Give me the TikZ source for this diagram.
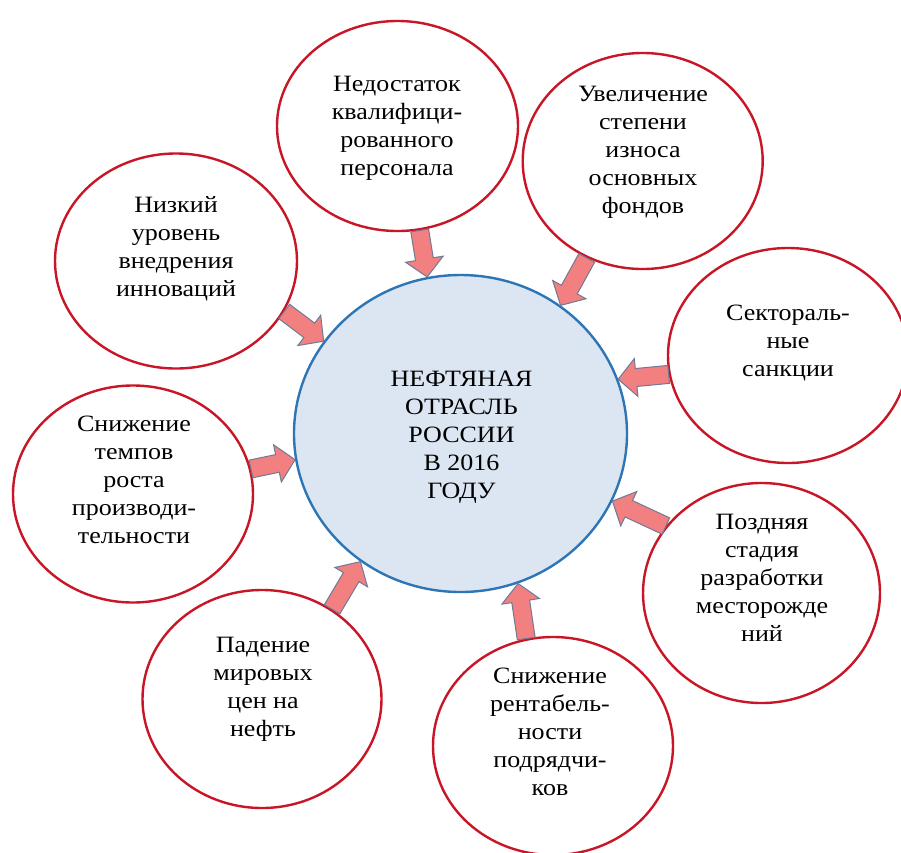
\documentclass[tikz,border=0pt]{standalone}
\usepackage{fontspec}
\setmainfont{Liberation Serif}
\usepackage{graphicx}
\usetikzlibrary{shapes.geometric,calc}
\definecolor{ered}{RGB}{200,22,38}
\definecolor{cblue}{RGB}{46,117,182}
\definecolor{cfill}{RGB}{220,230,242}
\definecolor{afill}{RGB}{242,128,128}
\definecolor{aline}{RGB}{110,122,150}
\newcommand\sqz[1]{\scalebox{1}[0.9]{\begin{tabular}{@{}c@{}}#1\end{tabular}}}
\begin{document}
\begin{tikzpicture}[x=1pt,y=-1pt,
  cause/.style={ellipse, draw=ered, line width=2.4pt, fill=white, inner sep=0pt},
  core/.style={ellipse, draw=cblue, line width=2.4pt, fill=cfill, inner sep=0pt,
    minimum width=333pt, minimum height=317pt},
  txt/.style={inner sep=0pt, font=\fontsize{26}{31}\selectfont, text=black},
  fat/.style={draw=aline, fill=afill, line width=1pt, line join=miter,
    to path={let \p1=(\tikztostart), \p2=(\tikztotarget),
      \n1={atan2(\y2-\y1,\x2-\x1)}, \n2={veclen(\x2-\x1,\y2-\y1)-18pt} in
      (\p1) ++(\n1+90:9pt) -- ++(\n1:\n2) -- ++(\n1+90:10pt) -- (\p2)
      -- ++(\n1-133.45:26.17pt) -- ++(\n1+90:10pt) -- ++(\n1+180:\n2) -- cycle}}]
\useasboundingbox (0,0) rectangle (901,852);
\fill[white] (0,0) rectangle (901,852);

% central node
\node[core] (ctr) at (460.5,433.5) {};
\node[txt] (tc) at (461.5,437) {\sqz{НЕФТЯНАЯ\\ОТРАСЛЬ\\РОССИИ\\В 2016\\ГОДУ}};

% causes
\node[cause, minimum width=241pt, minimum height=210pt] (c1) at (397.5,126) {};
\node[cause, minimum width=240pt, minimum height=216pt] (c2) at (642.7,161) {};
\node[cause, minimum width=240pt, minimum height=215pt] (c3) at (788,355.5) {};
\node[cause, minimum width=237pt, minimum height=220pt] (c4) at (761.5,593) {};
\node[cause, minimum width=240pt, minimum height=218pt] (c5) at (553,746) {};
\node[cause, minimum width=239pt, minimum height=218pt] (c6) at (262,699) {};
\node[cause, minimum width=240pt, minimum height=217pt] (c7) at (133,494) {};
\node[cause, minimum width=242pt, minimum height=215pt] (c8) at (176,261) {};

\node[txt] (t1) at (397,128) {\sqz{Недостаток\\квалифици-\\рованного\\персонала}};
\node[txt] (t2) at (643,152) {\sqz{Увеличение\\степени\\износа\\основных\\фондов}};
\node[txt] (t3) at (788,343) {\sqz{Сектораль-\\ные\\санкции}};
\node[txt] (t4) at (762,580) {\sqz{Поздняя\\стадия\\разработки\\месторожде\\ний}};
\node[txt] (t5) at (550,734) {\sqz{Снижение\\рентабель-\\ности\\подрядчи-\\ков}};
\node[txt] (t6) at (263,689) {\sqz{Падение\\мировых\\цен на\\нефть}};
\node[txt] (t7) at (134,482) {\sqz{Снижение\\темпов\\роста\\производи-\\тельности}};
\node[txt] (t8) at (176,249) {\sqz{Низкий\\уровень\\внедрения\\инноваций}};

% block arrows
\draw[fat] (c1.-78.4) to (ctr.102.1);
\draw[fat] (c2.240.5) to (ctr.52.7);
\draw[fat] (c3.189.2) to (ctr.19.2);
\draw[fat] (c4.145.4) to (ctr.-24.7);
\draw[fat] (c5.104.2) to (ctr.-69.5);
\draw[fat] (c6.52.5) to (ctr.232.3);
\draw[fat] (c7.12.4) to (ctr.189.5);
\draw[fat] (c8.-25.5) to (ctr.146.1);
\end{tikzpicture}
\end{document}
